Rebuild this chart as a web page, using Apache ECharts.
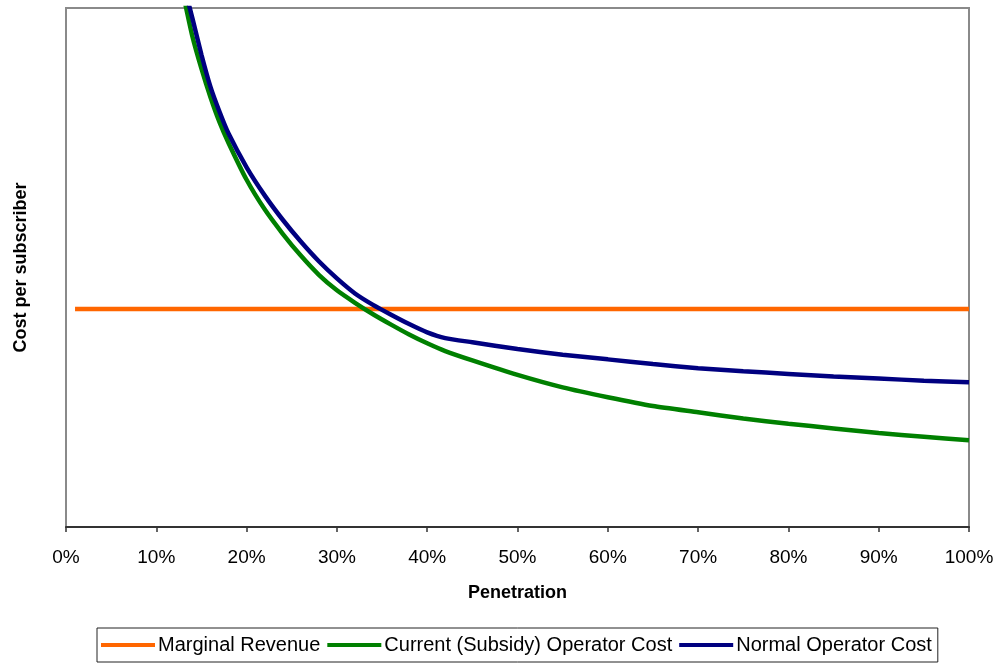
<!DOCTYPE html>
<html>
<head>
<meta charset="utf-8">
<script src="https://cdn.jsdelivr.net/npm/echarts@6/dist/echarts.min.js"></script>
<style>
  html, body { margin: 0; padding: 0; background: #fff; }
  #chart { width: 1001px; height: 664px; }
</style>
</head>
<body>
<div id="chart"></div>
<script>
// Penetration (%) sample points shared by the two cost curves
const penetration = [12, 13, 14, 15, 16, 17, 18, 20, 22, 24, 26, 28, 30, 32, 34, 36, 38, 40, 42, 45, 50, 55, 60, 65, 70, 75, 80, 85, 90, 95, 100];

// Cost per subscriber (relative units; axis shows no values)
const currentSubsidyCost = [111.0, 102.5, 94.5, 88.3, 82.8, 78.0, 74.0, 66.9, 61.2, 56.5, 52.3, 48.6, 45.6, 43.2, 41.0, 39.0, 37.1, 35.4, 33.9, 32.1, 29.3, 26.9, 25.0, 23.3, 22.1, 20.9, 19.9, 19.0, 18.1, 17.4, 16.7];
const normalOperatorCost = [112.0, 104.8, 98.0, 91.0, 84.8, 80.0, 75.8, 69.3, 63.9, 59.2, 55.0, 51.2, 47.9, 45.0, 42.8, 40.9, 39.1, 37.5, 36.4, 35.6, 34.3, 33.2, 32.3, 31.4, 30.6, 30.0, 29.5, 29.0, 28.6, 28.2, 27.9];

// Flat marginal revenue line
const revenuePenetration = [1, 100];
const marginalRevenue = [42.0, 42.0];

const seriesNames = ['Marginal Revenue', 'Current (Subsidy) Operator Cost', 'Normal Operator Cost'];
const seriesColors = ['#FF6600', '#008000', '#000080'];
const xTicks = { min: 0, max: 100, step: 10 };

const pairs = (xs, ys) => xs.map((x, i) => [x, ys[i]]);
const FONT = '"Liberation Sans", Arial, sans-serif';

const chart = echarts.init(document.getElementById('chart'), null, { renderer: 'canvas' });
chart.setOption({
  animation: false,
  backgroundColor: '#ffffff',
  grid: {
    left: 66, right: 32, top: 8, bottom: 137,
    outerBoundsMode: 'none',
    containLabel: false,
    show: true, borderColor: '#8a8a8a', borderWidth: 2, backgroundColor: '#ffffff'
  },
  xAxis: {
    type: 'value',
    min: xTicks.min, max: xTicks.max, interval: xTicks.step,
    name: 'Penetration',
    nameLocation: 'middle',
    nameGap: 57,
    nameTextStyle: { fontFamily: FONT, fontWeight: 'bold', fontSize: 18, color: '#000' },
    axisLine: { show: true, lineStyle: { color: '#333', width: 2 } },
    axisTick: { show: true, length: 5, lineStyle: { color: '#333', width: 1.5 } },
    axisLabel: { formatter: '{value}%', fontFamily: FONT, fontSize: 19, color: '#000', margin: 21 },
    splitLine: { show: false }
  },
  yAxis: {
    type: 'value',
    min: 0, max: 100,
    name: 'Cost per subscriber',
    nameLocation: 'middle',
    nameRotate: 90,
    nameGap: 36,
    nameTextStyle: { fontFamily: FONT, fontWeight: 'bold', fontSize: 18, color: '#000' },
    axisLine: { show: false },
    axisTick: { show: false },
    axisLabel: { show: false },
    splitLine: { show: false }
  },
  legend: {
    left: 97, top: 628,
    orient: 'horizontal',
    data: seriesNames.map((n, i) => ({ name: n, icon: 'rect', itemStyle: { color: seriesColors[i] } })),
    itemWidth: 54, itemHeight: 4, itemGap: 7,
    padding: [7, 6, 7, 4],
    borderColor: '#222', borderWidth: 1,
    textStyle: { fontFamily: FONT, fontSize: 20, color: '#000', padding: [0, 0, 0, -2] }
  },
  series: [
    {
      name: seriesNames[0], type: 'line', symbol: 'none', clip: true,
      data: pairs(revenuePenetration, marginalRevenue),
      lineStyle: { color: seriesColors[0], width: 4.5 }, itemStyle: { color: seriesColors[0] }
    },
    {
      name: seriesNames[1], type: 'line', symbol: 'none', clip: true, smooth: 0.2,
      data: pairs(penetration, currentSubsidyCost),
      lineStyle: { color: seriesColors[1], width: 4.5 }, itemStyle: { color: seriesColors[1] }
    },
    {
      name: seriesNames[2], type: 'line', symbol: 'none', clip: true, smooth: 0.2,
      data: pairs(penetration, normalOperatorCost),
      lineStyle: { color: seriesColors[2], width: 4.5 }, itemStyle: { color: seriesColors[2] }
    }
  ]
});
</script>
</body>
</html>
